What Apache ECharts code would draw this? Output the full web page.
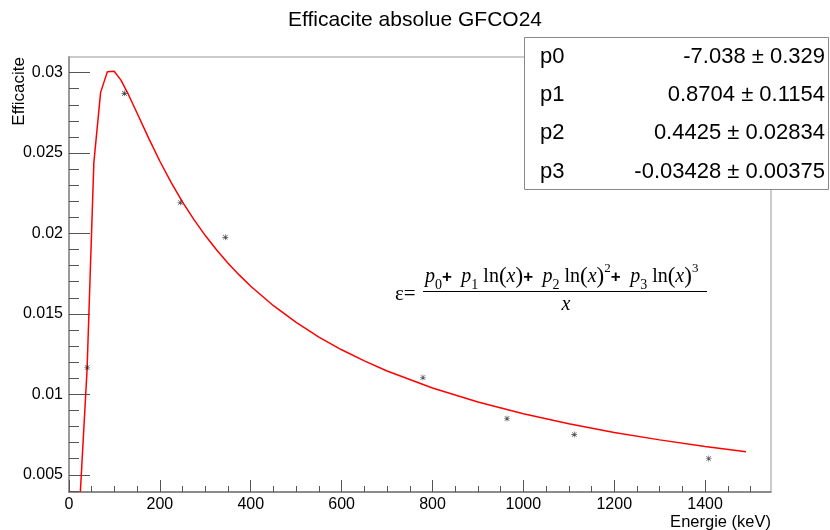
<!DOCTYPE html>
<html><head><meta charset="utf-8">
<script src="https://cdn.jsdelivr.net/npm/echarts@6/dist/echarts.min.js"></script>
<style>html,body{margin:0;padding:0;background:#fff;}#c{width:830px;height:530px;}</style>
</head><body><div id="c"></div>
<script>
// ---- data ----
const chartTitle = 'Efficacite absolue GFCO24';
const xName = 'Energie (keV)';
const yName = 'Efficacite';
const energies = [40, 122, 245, 344, 779, 964, 1112, 1408];
const efficiencies = [0.01167, 0.02871, 0.02193, 0.01976, 0.01105, 0.0085, 0.00751, 0.00601];
const fitEnergies = [25, 39.8, 54.7, 69.6, 84.5, 99.4, 114.3, 129.2, 150, 175, 200, 225, 250, 275, 300, 325, 350, 375, 400, 450, 500, 550, 600, 650, 700, 800, 900, 1000, 1100, 1200, 1300, 1400, 1490];
const fitValues = [0.00393, 0.01156, 0.02440, 0.02877, 0.03006, 0.03008, 0.02953, 0.02873, 0.02747, 0.02594, 0.02449, 0.02316, 0.02195, 0.02086, 0.01987, 0.01897, 0.01815, 0.01741, 0.01672, 0.01551, 0.01447, 0.01356, 0.01277, 0.01208, 0.01145, 0.01039, 0.00952, 0.00879, 0.00817, 0.00763, 0.00717, 0.00676, 0.00643];
const xRange = [0, 1545];
const yRange = [0.00393, 0.03097];
const xMajorTicks = [0, 200, 400, 600, 800, 1000, 1200, 1400];
const xMinorTicks = [50, 100, 150, 250, 300, 350, 450, 500, 550, 650, 700, 750, 850, 900, 950, 1050, 1100, 1150, 1250, 1300, 1350, 1450, 1500];
const yMajorTicks = [0.005, 0.01, 0.015, 0.02, 0.025, 0.03];
const yMinorTicks = [0.004, 0.006, 0.007, 0.008, 0.009, 0.011, 0.012, 0.013, 0.014, 0.016, 0.017, 0.018, 0.019, 0.021, 0.022, 0.023, 0.024, 0.026, 0.027, 0.028, 0.029];
const paramNames = ['p0', 'p1', 'p2', 'p3'];
const paramValues = ['-7.038 \u00b1 0.329', '0.8704 \u00b1 0.1154', '0.4425 \u00b1 0.02834', '-0.03428 \u00b1 0.00375'];

// ---- chart ----
const SANS = '"Liberation Sans", Arial, Helvetica, sans-serif';
const SERIF = '"Liberation Serif", "Times New Roman", serif';
const chart = echarts.init(document.getElementById('c'), null, {renderer: 'canvas'});

const axisBase = (minMax) => ({type: 'value', min: minMax[0], max: minMax[1], splitLine: {show: false}});
const fmtNum = v => String(parseFloat(Number(v).toFixed(4)));

const starPath = 'path://M0,4.5L10,4.5L10,5.5L0,5.5Z M4.5,0L5.5,0L5.5,10L4.5,10Z M0.8,1.5L1.5,0.8L9.2,8.5L8.5,9.2Z M8.5,0.8L9.2,1.5L1.5,9.2L0.8,8.5Z';

const graphics = [];
// stats box
graphics.push({type: 'rect', shape: {x: 524.5, y: 37.5, width: 304, height: 152}, style: {fill: '#fff', stroke: '#888', lineWidth: 1}, z: 100});
const rowY = [57, 95, 133, 171.5];
paramNames.forEach((n, i) => {
  graphics.push({type: 'text', x: 540, y: rowY[i], z: 101, style: {text: n, font: '22px ' + SANS, fill: '#000', align: 'left', verticalAlign: 'middle', textAlign: 'left', textVerticalAlign: 'middle'}});
  graphics.push({type: 'text', x: 825, y: rowY[i], z: 101, style: {text: paramValues[i], font: '22px ' + SANS, fill: '#000', align: 'right', verticalAlign: 'middle', textAlign: 'right', textVerticalAlign: 'middle'}});
});
// axis titles
graphics.push({type: 'text', x: 19.5, y: 57, rotation: Math.PI / 2, style: {text: yName, font: '17px ' + SANS, fill: '#000', align: 'right', verticalAlign: 'middle', textAlign: 'right', textVerticalAlign: 'middle'}});
graphics.push({type: 'text', x: 771, y: 522, style: {text: xName, font: '16.5px ' + SANS, fill: '#000', align: 'right', verticalAlign: 'middle', textAlign: 'right', textVerticalAlign: 'middle'}});
// formula
const mainSt = {fontFamily: SERIF, fontSize: 20, lineHeight: 30, fill: '#000', color: '#000'};
const rich = {
  i: Object.assign({}, mainSt, {fontStyle: 'italic'}),
  r: Object.assign({}, mainSt),
  o: Object.assign({}, mainSt, {fontWeight: 'bold', fontFamily: SANS, fontSize: 17}),
  pa: Object.assign({}, mainSt, {fontSize: 23}),
  sb: {fontFamily: SERIF, fontSize: 14, lineHeight: 14, verticalAlign: 'bottom', fill: '#000', color: '#000'},
  sp: {fontFamily: SERIF, fontSize: 13, lineHeight: 25, verticalAlign: 'top', fill: '#000', color: '#000'}
};
const term = (k, pow) => '{i|p}{sb|' + k + '}' + (k === 0 ? '' : '{r| ln}{pa|(}{i|x}{pa|)}' + (pow ? '{sp|' + pow + '}' : ''));
const numer = term(0) + '{o|+  }' + term(1) + '{o|+  }' + term(2, 2) + '{o|+  }' + term(3, 3);
graphics.push({type: 'text', x: 425, y: 262, style: {text: numer, rich: rich, align: 'left', verticalAlign: 'top', textAlign: 'left', textVerticalAlign: 'top', font: '20px ' + SERIF, fill: '#000'}});
graphics.push({type: 'line', shape: {x1: 423, y1: 291.5, x2: 707, y2: 291.5}, style: {stroke: '#000', lineWidth: 1}});
graphics.push({type: 'text', x: 566, y: 305, style: {text: 'x', font: 'italic 20px ' + SERIF, fill: '#000', align: 'center', verticalAlign: 'middle', textAlign: 'center', textVerticalAlign: 'middle'}});
graphics.push({type: 'text', x: 395, y: 294, style: {text: '\u03b5=', font: '21px ' + SERIF, fill: '#000', align: 'left', verticalAlign: 'middle', textAlign: 'left', textVerticalAlign: 'middle'}});

const option = {
  animation: false,
  backgroundColor: '#fff',
  title: {text: chartTitle, left: 'center', top: 5, textStyle: {fontFamily: SANS, fontSize: 21, fontWeight: 'normal', color: '#000'}},
  grid: {left: 69, right: 59, top: 57, bottom: 38, show: true, borderColor: '#999', borderWidth: 1, containLabel: false, outerBoundsMode: 'none'},
  xAxis: [
    Object.assign(axisBase(xRange), {position: 'bottom',
      axisLine: {show: true, onZero: false, lineStyle: {color: '#777', width: 1.5}},
      axisTick: {show: true, inside: true, length: 12, customValues: xMajorTicks, lineStyle: {color: '#555', width: 1}},
      axisLabel: {show: true, customValues: xMajorTicks, formatter: fmtNum, fontFamily: SANS, fontSize: 16, color: '#000', margin: 5, hideOverlap: false}}),
    Object.assign(axisBase(xRange), {position: 'bottom',
      axisLine: {show: false, onZero: false},
      axisTick: {show: true, inside: true, length: 6, customValues: xMinorTicks, lineStyle: {color: '#555', width: 1}},
      axisLabel: {show: false}})
  ],
  yAxis: [
    Object.assign(axisBase(yRange), {position: 'left',
      axisLine: {show: true, onZero: false, lineStyle: {color: '#999', width: 2}},
      axisTick: {show: true, inside: true, length: 21, customValues: yMajorTicks, lineStyle: {color: '#555', width: 1}},
      axisLabel: {show: true, customValues: yMajorTicks, formatter: fmtNum, fontFamily: SANS, fontSize: 16, color: '#000', margin: 6, hideOverlap: false}}),
    Object.assign(axisBase(yRange), {position: 'left', offset: 0,
      axisLine: {show: false, onZero: false},
      axisTick: {show: true, inside: true, length: 10, customValues: yMinorTicks, lineStyle: {color: '#555', width: 1}},
      axisLabel: {show: false}})
  ],
  series: [
    {type: 'line', xAxisIndex: 0, yAxisIndex: 0, data: fitEnergies.map((x, i) => [x, fitValues[i]]),
      showSymbol: false, symbol: 'none', smooth: false, lineStyle: {color: '#ff0000', width: 1.5}, z: 3, silent: true},
    {type: 'scatter', xAxisIndex: 0, yAxisIndex: 0, data: energies.map((x, i) => [x, efficiencies[i]]),
      symbol: starPath, symbolSize: 6, itemStyle: {color: '#222'}, z: 4, silent: true}
  ],
  graphic: {elements: graphics}
};
chart.setOption(option);
</script></body></html>
